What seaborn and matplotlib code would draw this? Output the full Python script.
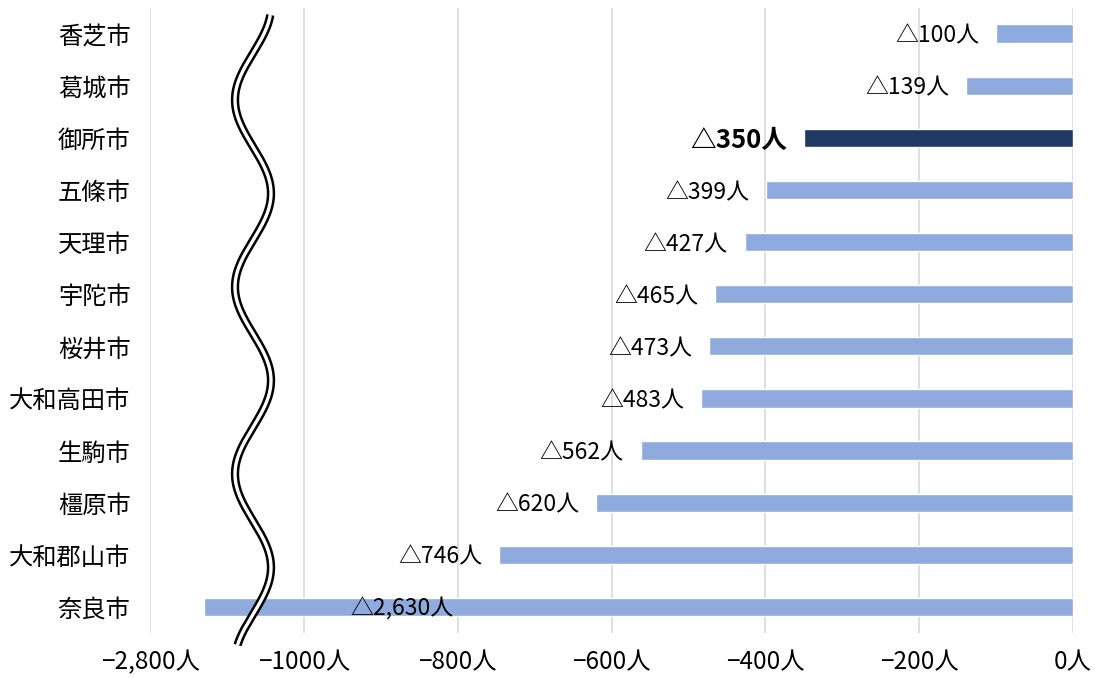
import matplotlib
matplotlib.use("Agg")
import matplotlib.pyplot as plt
import seaborn as sns
import numpy as np
import pandas as pd
from matplotlib.lines import Line2D

cities = ["香芝市", "葛城市", "御所市", "五條市", "天理市", "宇陀市", "桜井市",
          "大和高田市", "生駒市", "橿原市", "大和郡山市", "奈良市"]
values = [-100, -139, -350, -399, -427, -465, -473, -483, -562, -620, -746, -2630]
labels = ["△100人", "△139人", "△350人", "△399人", "△427人", "△465人", "△473人",
          "△483人", "△562人", "△620人", "△746人", "△2,630人"]
highlight = "御所市"
tick_pos = [-1200, -1000, -800, -600, -400, -200, 0]
tick_labels = ["−2,800人", "−1000人", "−800人", "−600人", "−400人", "−200人", "0人"]

BREAK_OFFSET = 1500  # axis break: values below -1000 are shifted right
display = [v + BREAK_OFFSET if v < -1000 else v for v in values]

LIGHT = "#8FAADC"
DARK = "#203864"

sns.set_theme(style="white")
plt.rcParams['font.family'] = ['Noto Sans CJK JP', 'DejaVu Sans']

fig = plt.figure(figsize=(10.95, 6.78), dpi=100)
W, H = 1095, 678
ax = fig.add_axes([150 / W, 1 - 633 / H, (1073 - 150) / W, (633 - 7.5) / H])

df = pd.DataFrame({"city": cities, "val": display})
palette = {c: (DARK if c == highlight else LIGHT) for c in cities}
sns.barplot(data=df, x="val", y="city", hue="city", palette=palette, legend=False,
            width=0.35, ax=ax, saturation=1, orient="h")

ax.set_xlim(-1200, 0)
ax.set_ylim(len(cities) - 0.5, -0.5)
ax.set_xticks(tick_pos)
ax.set_xticklabels(tick_labels, fontsize=17.5)
ax.tick_params(axis='x', length=0, pad=12, colors="#000000")
ax.tick_params(axis='y', length=0, pad=14, labelsize=17.5, colors="#000000")
ax.set_xlabel("")
ax.set_ylabel("")
for s in ax.spines.values():
    s.set_visible(False)
ax.grid(axis='x', color="#D9D9D9", linewidth=1.2)
ax.set_axisbelow(True)

for i, (c, d, lab) in enumerate(zip(cities, display, labels)):
    if values[i] < -1000:
        ax.text(-872, i, lab, ha='center', va='center_baseline', fontsize=16.5, color="black")
    elif c == highlight:
        ax.text(d - 22, i, lab, ha='right', va='center_baseline', fontsize=18.5,
                fontweight='bold', color="black")
    else:
        ax.text(d - 22, i, lab, ha='right', va='center_baseline', fontsize=16.5, color="black")

# wavy double break line (decoration, in figure pixels)
py = np.linspace(15, 645, 400)
px = 253 + 18 * np.sin(2 * np.pi * (py - 100) / 187 - np.pi / 2)
fx = px / W
fy = 1 - py / H
fig.add_artist(Line2D(fx, fy, color="black", linewidth=6.0, solid_capstyle='butt'))
fig.add_artist(Line2D(fx, fy, color="white", linewidth=2.4, solid_capstyle='butt'))

fig.savefig("out.png", dpi=100)
